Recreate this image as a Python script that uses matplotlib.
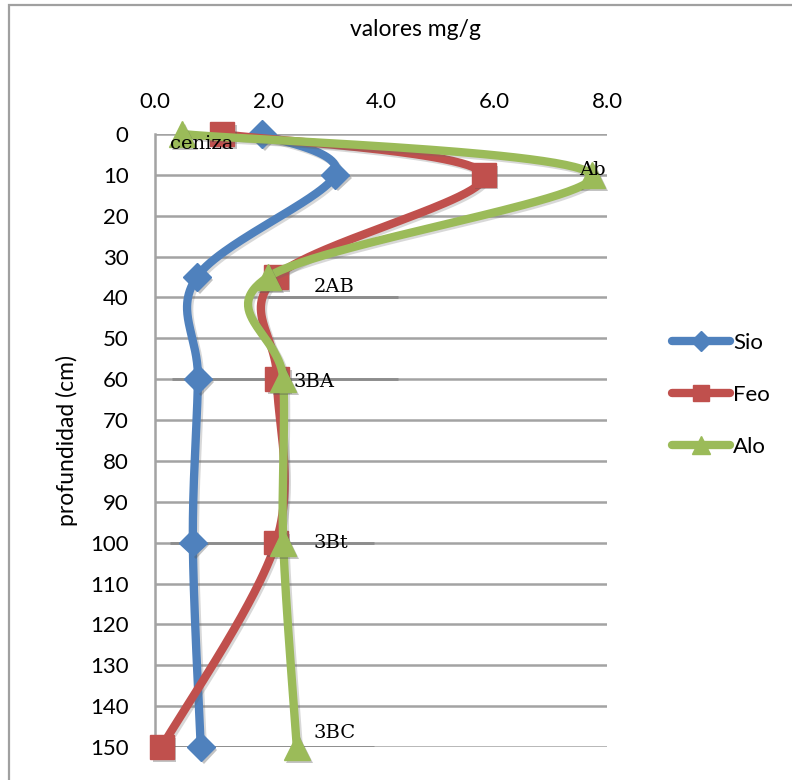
import numpy as np
import matplotlib
matplotlib.use("Agg")
import matplotlib.pyplot as plt
from matplotlib.patches import Rectangle
from matplotlib.lines import Line2D
import matplotlib.patheffects as pe

# depth of each sample (cm) and oxalate-extractable values (mg/g)
depth = [0, 10, 35, 60, 100, 150]
sio = [1.89, 3.19, 0.74, 0.76, 0.67, 0.81]
feo = [1.19, 5.82, 2.14, 2.16, 2.14, 0.12]
alo = [0.48, 7.73, 2.00, 2.27, 2.27, 2.51]

series_names = ["Sio", "Feo", "Alo"]
series_colors = ["#4F81BD", "#C0504D", "#9BBB59"]
series_markers = ["D", "s", "^"]
series_msize = [14, 17, 19]

# horizon names and where they are written
horizons = ["ceniza", "Ab", "2AB", "3BA", "3Bt", "3BC"]
horizon_x = [0.27, 7.50, 2.81, 2.46, 2.81, 2.81]
horizon_y = [2.5, 8.8, 37.5, 60.7, 100.2, 146.5]

# darker rules under some horizon names (depth, x start, x end)
rule_depth = [40, 60, 100, 150]
rule_x0 = [2.0, 0.3, 0.27, 0.15]
rule_x1 = [4.3, 4.3, 3.88, 3.88]

x_ticks = [0, 2, 4, 6, 8]
y_ticks = list(range(0, 151, 10))

W, H = 792, 780
fig = plt.figure(figsize=(W / 100, H / 100), dpi=100)
ax = fig.add_axes([155 / W, 1 - 747 / H, (607 - 155) / W, (747 - 134) / H])

XPX = (607 - 155) / 8.0
YPX = (747 - 134) / 150.0


def smooth(xs, ys, n=60):
    """Bezier smoothing through the points, computed in screen proportions."""
    P = np.column_stack([np.asarray(xs) * XPX, np.asarray(ys) * YPX])
    out = []
    m = len(P)
    for i in range(m - 1):
        p0 = P[i - 1] if i > 0 else P[i]
        p1 = P[i]
        p2 = P[i + 1]
        p3 = P[i + 2] if i + 2 < m else P[i + 1]
        c1 = p1 + (p2 - p0) / 6.0
        c2 = p2 - (p3 - p1) / 6.0
        t = np.linspace(0, 1, n)[:, None]
        seg = ((1 - t) ** 3) * p1 + 3 * ((1 - t) ** 2) * t * c1 + 3 * (1 - t) * t ** 2 * c2 + t ** 3 * p2
        out.append(seg if i == 0 else seg[1:])
    out = np.vstack(out)
    return out[:, 0] / XPX, out[:, 1] / YPX


grid_color = "#a3a3a3"
for yv in y_ticks:
    ax.axhline(yv, color=grid_color, lw=1.8, zorder=1)
for d, a, b in zip(rule_depth, rule_x0, rule_x1):
    ax.plot([a, b], [d, d], color="#8c8c8c", lw=2.0, zorder=1.5, solid_capstyle="butt")

shadow = [pe.SimplePatchShadow(offset=(2, -2), shadow_rgbFace="#555555", alpha=0.35), pe.Normal()]
line_shadow = [pe.SimpleLineShadow(offset=(1.5, -1.5), shadow_color="#666666", alpha=0.25), pe.Normal()]

for k, (vals, name, col, mk, ms) in enumerate(zip([sio, feo, alo], series_names, series_colors,
                                                   series_markers, series_msize)):
    sx, sy = smooth(vals, depth)
    ax.plot(sx, sy, color=col, lw=6, solid_capstyle="round", zorder=3 + 2 * k,
            clip_on=False, path_effects=line_shadow)
    ax.plot(vals, depth, linestyle="none", marker=mk, markersize=ms, color=col,
            markeredgecolor=col, zorder=4 + 2 * k, clip_on=False, path_effects=shadow)

for txt, hx, hy in zip(horizons, horizon_x, horizon_y):
    ax.text(hx, hy, txt, fontsize=14, family="DejaVu Serif", ha="left", va="center",
            color="black", zorder=10)

ax.set_xlim(0, 8)
ax.set_ylim(150, 0)
ax.xaxis.tick_top()
ax.set_xticks(x_ticks)
ax.set_xticklabels([f"{v:.1f}" for v in x_ticks], family="Lato", fontsize=16)
ax.set_yticks(y_ticks)
ax.set_yticklabels([str(v) for v in y_ticks], family="Lato", fontsize=16)
ax.tick_params(axis="x", length=0, pad=16)
ax.tick_params(axis="y", length=0, pad=19)
for s in ["top", "right", "bottom"]:
    ax.spines[s].set_visible(False)
ax.spines["left"].set_color(grid_color)
ax.spines["left"].set_linewidth(1.8)

fig.text(415 / W, 1 - 30 / H, "valores mg/g", family="Lato", fontsize=16.5, ha="center", va="center")
fig.text(67 / W, 1 - 440 / H, "profundidad (cm)", family="Lato", fontsize=16.5, ha="center",
         va="center", rotation=90)

handles = [Line2D([0], [0], color=c, lw=6, marker=m, markersize=ms * 0.7, solid_capstyle="round")
           for c, m, ms in zip(series_colors, series_markers, series_msize)]
fig.legend(handles, series_names, loc="center left", bbox_to_anchor=(652 / W, 1 - 395 / H),
           frameon=False, prop={"family": "Lato", "size": 16}, handlelength=2.6,
           handletextpad=0.15, labelspacing=1.45)

fig.patches.append(Rectangle((9 / W, -0.05), 1.1, 1 - 5 / H + 0.05, transform=fig.transFigure,
                             fill=False, edgecolor="#a0a0a0", lw=1.6))

fig.savefig("out.png", dpi=100, facecolor="white")
